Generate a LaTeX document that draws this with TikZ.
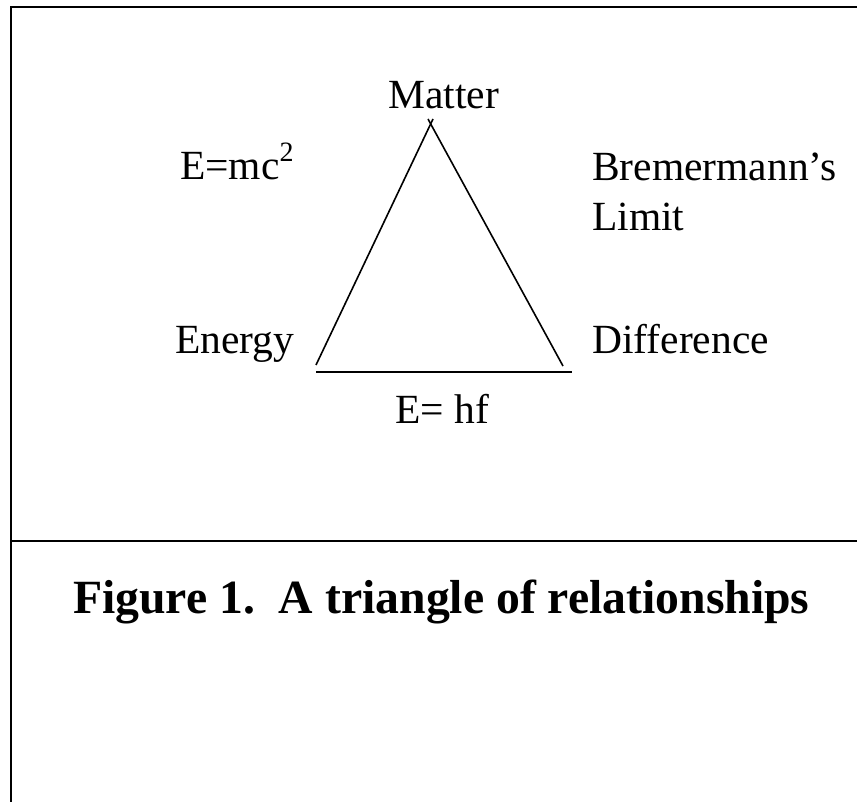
\documentclass[tikz,border=0pt]{standalone}
\usepackage{fontspec}
\setmainfont{Liberation Serif}
\begin{document}
\begin{tikzpicture}[
    x=1pt, y=-1pt,
    txt/.style={font=\fontsize{41.5}{50}\selectfont, inner sep=0pt, anchor=base west, align=left},
    caption/.style={font=\fontsize{47.7}{56}\selectfont\bfseries, inner sep=0pt, anchor=base west},
    frame/.style={line width=2.5pt},
    edge/.style={line width=1.6pt}
]
    \useasboundingbox (0,0) rectangle (857,802);

    % frame lines
    \draw[frame] (11,802) -- (11,7) -- (857,7);
    \draw[frame] (11,541) -- (857,541);

    % triangle corners
    \coordinate (apexL) at (433,119);
    \coordinate (apexR) at (428,119);
    \coordinate (energy) at (316,365);
    \coordinate (diff) at (563,366);
    \coordinate (baseL) at (316,372);
    \coordinate (baseR) at (572,372);

    % triangle
    \draw[edge] (energy) -- (apexL);
    \draw[edge] (apexR) -- (diff);
    \draw[edge] (baseL) -- (baseR);

    % labels (base of a two-line node is its last line)
    \node[txt] (matter) at (388,109) {Matter};
    \node[txt] (emc) at (180,180) {E=mc\raisebox{0.45em}{\fontsize{28}{30}\selectfont 2}};
    \node[txt] (brem) at (592,231) {Bremermann’s\\Limit};
    \node[txt] (energyl) at (175,353) {Energy};
    \node[txt] (diffl) at (592,353) {Difference};
    \node[txt] (ehf) at (395,423) {E= hf};

    % caption
    \node[caption] (fig) at (73,613) {Figure 1.\ \ A triangle of relationships};
\end{tikzpicture}
\end{document}
